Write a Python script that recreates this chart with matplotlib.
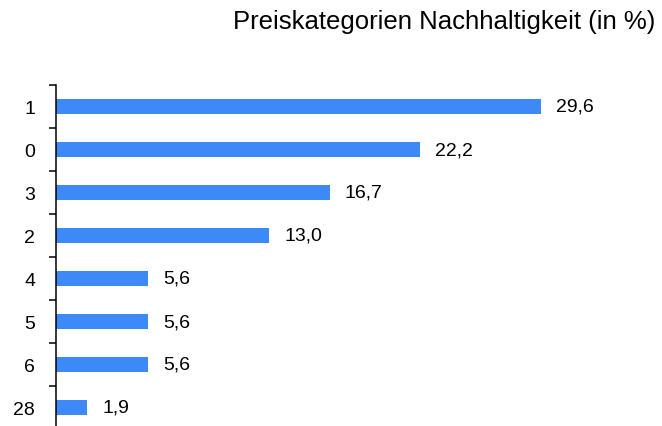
import matplotlib.pyplot as plt
import numpy as np

# Daten
kategorien = ['1', '0', '3', '2', '4', '5', '6', '28']
werte = [29.6, 22.2, 16.7, 13.0, 5.6, 5.6, 5.6, 1.9]
titel = 'Preiskategorien Nachhaltigkeit (in %)'

plt.rcParams['font.family'] = ['Liberation Sans', 'DejaVu Sans']

fig = plt.figure(figsize=(6.62, 4.27), dpi=100)
ax = fig.add_axes([56 / 662, -3 / 427, 600 / 662, 344 / 427])

y = np.arange(len(kategorien))
ax.barh(y, werte, height=0.35, color='#3d89f7')
ax.set_ylim(len(kategorien) - 0.5, -0.5)
ax.set_xlim(0, 600 / 16.39)

# Werte neben den Balken
for yi, w in zip(y, werte):
    ax.annotate(f'{w:.1f}'.replace('.', ','), xy=(w, yi), xytext=(11, 0),
                textcoords='offset points', ha='left', va='center', fontsize=14)

# Achsen
for s in ['top', 'right', 'bottom']:
    ax.spines[s].set_visible(False)
ax.spines['left'].set_linewidth(1.1)
ax.set_xticks([])
ax.set_yticks(y)
ax.set_yticklabels(kategorien, fontsize=14)
ax.tick_params(axis='y', which='major', length=0, pad=15)
ax.set_yticks(np.arange(len(kategorien) + 1) - 0.5, minor=True)
ax.tick_params(axis='y', which='minor', length=5, width=1.1, direction='out')

fig.text(655 / 662, 1 - 22 / 427, titel, ha='right', va='center', fontsize=18.5)

fig.savefig('out.png', dpi=100)
